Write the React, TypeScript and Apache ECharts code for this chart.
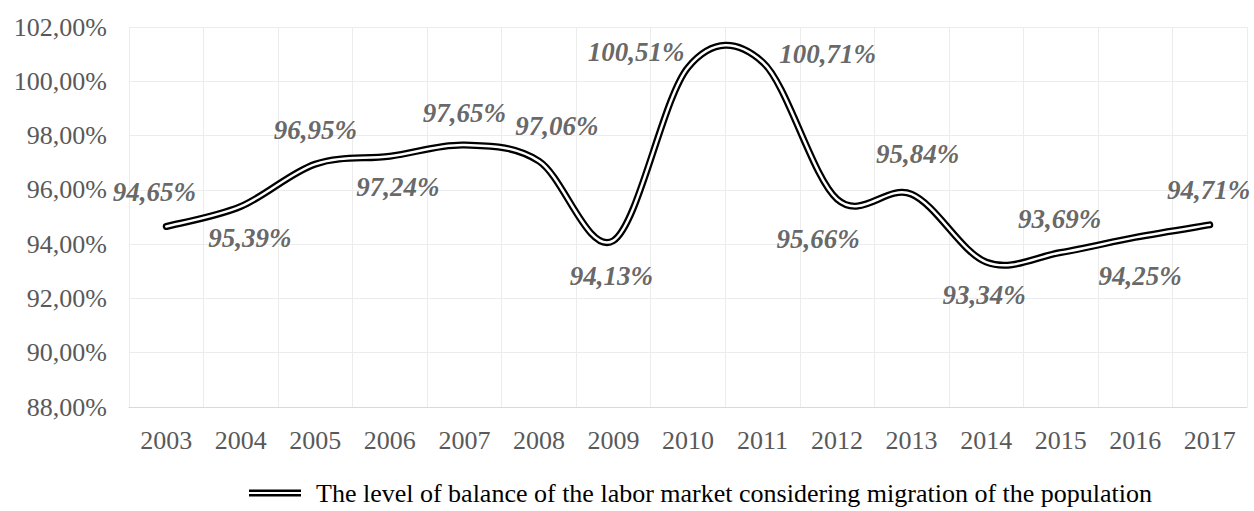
import React, { useEffect, useRef } from "react";
import * as echarts from "echarts";

const years = ["2003", "2004", "2005", "2006", "2007", "2008", "2009", "2010", "2011", "2012", "2013", "2014", "2015", "2016", "2017"];
const balance = [94.65, 95.39, 96.95, 97.24, 97.65, 97.06, 94.13, 100.51, 100.71, 95.66, 95.84, 93.34, 93.69, 94.25, 94.71];
const labelOffsets: [number, number][] = [
  [-12, -35], [9, 32], [0, -34], [8, 31], [0, -32], [18, -35], [-2, 35], [-52, -15],
  [65, -8], [-19, 40], [6, -40], [-2, 33], [-1, -34], [5, 39], [-1, -35],
];
const seriesName = "The level of balance of the labor market considering migration of the population";
const yMin = 88;
const yMax = 102;
const yStep = 2;

const SERIF = "Liberation Serif, Times New Roman, serif";

function fmt(v: number) {
  return v.toFixed(2).replace(".", ",") + "%";
}

function buildPath(pts: number[][]) {
  const n = pts.length;
  let d = `M${pts[0][0]},${pts[0][1]}`;
  for (let i = 0; i < n - 1; i++) {
    const p0 = pts[Math.max(0, i - 1)];
    const p1 = pts[i];
    const p2 = pts[i + 1];
    const p3 = pts[Math.min(n - 1, i + 2)];
    const c1x = p1[0] + (p2[0] - p0[0]) / 6;
    const c1y = p1[1] + (p2[1] - p0[1]) / 6;
    const c2x = p2[0] - (p3[0] - p1[0]) / 6;
    const c2y = p2[1] - (p3[1] - p1[1]) / 6;
    d += ` C${c1x},${c1y} ${c2x},${c2y} ${p2[0]},${p2[1]}`;
  }
  return d;
}

export default function App() {
  const ref = useRef<HTMLDivElement>(null);
  useEffect(() => {
    if (!ref.current) return;
    const chart = echarts.init(ref.current, null, { renderer: "svg" });
    chart.setOption({
      animation: false,
      backgroundColor: "#ffffff",
      grid: { left: 129, right: 7, top: 27, bottom: 104 },
      legend: {
        left: 249,
        top: 480,
        padding: 0,
        data: [{ name: seriesName, icon: "path://M0,0H52V2.5H0Z M0,4.5H52V7H0Z" }],
        itemWidth: 52,
        itemHeight: 7,
        textStyle: { color: "#000", fontSize: 26, fontFamily: SERIF, padding: [0, 0, 0, 10] },
      },
      xAxis: {
        type: "category",
        data: years,
        boundaryGap: true,
        axisLine: { show: true, lineStyle: { color: "#d9d9d9", width: 1 } },
        axisTick: { show: false },
        splitLine: { show: true, lineStyle: { color: "#ececec", width: 1 } },
        axisLabel: { color: "#595959", fontSize: 26, fontFamily: SERIF, margin: 20, interval: 0 },
      },
      yAxis: {
        type: "value",
        min: yMin,
        max: yMax,
        interval: yStep,
        axisLine: { show: false },
        axisTick: { show: false },
        splitLine: { show: true, lineStyle: { color: "#ececec", width: 1 } },
        axisLabel: { color: "#595959", fontSize: 26, fontFamily: SERIF, margin: 22, formatter: (v: number) => fmt(v) },
      },
      series: [
        {
          name: seriesName,
          type: "custom",
          itemStyle: { color: "#000" },
          encode: { x: 0, y: 1 },
          data: balance.map((v, i) => [i, v]),
          renderItem: (params: any, api: any) => {
            if (params.dataIndex !== 0) return null;
            const pts = balance.map((v, i) => api.coord([i, v]));
            const d = buildPath(pts);
            return {
              type: "group",
              children: [
                { type: "path", shape: { pathData: d }, style: { fill: "none", stroke: "#000", lineWidth: 7, lineCap: "round", lineJoin: "round" } },
                { type: "path", shape: { pathData: d }, style: { fill: "none", stroke: "#fff", lineWidth: 2.5, lineCap: "round", lineJoin: "round" } },
              ],
            };
          },
        },
        {
          name: "labels",
          type: "scatter",
          symbolSize: 1,
          itemStyle: { color: "rgba(0,0,0,0)" },
          z: 5,
          data: balance.map((v, i) => ({
            value: [i, v],
            label: { offset: labelOffsets[i] },
          })),
          label: {
            show: true,
            position: "inside",
            formatter: (p: any) => fmt(p.value[1]),
            color: "#404040",
            fontSize: 27,
            fontWeight: "bold",
            fontStyle: "italic",
            fontFamily: SERIF,
          },
        },
      ],
    });
    return () => chart.dispose();
  }, []);
  return <div ref={ref} style={{ position: "absolute", left: 0, top: 0, width: 1254, height: 511 }} />;
}
